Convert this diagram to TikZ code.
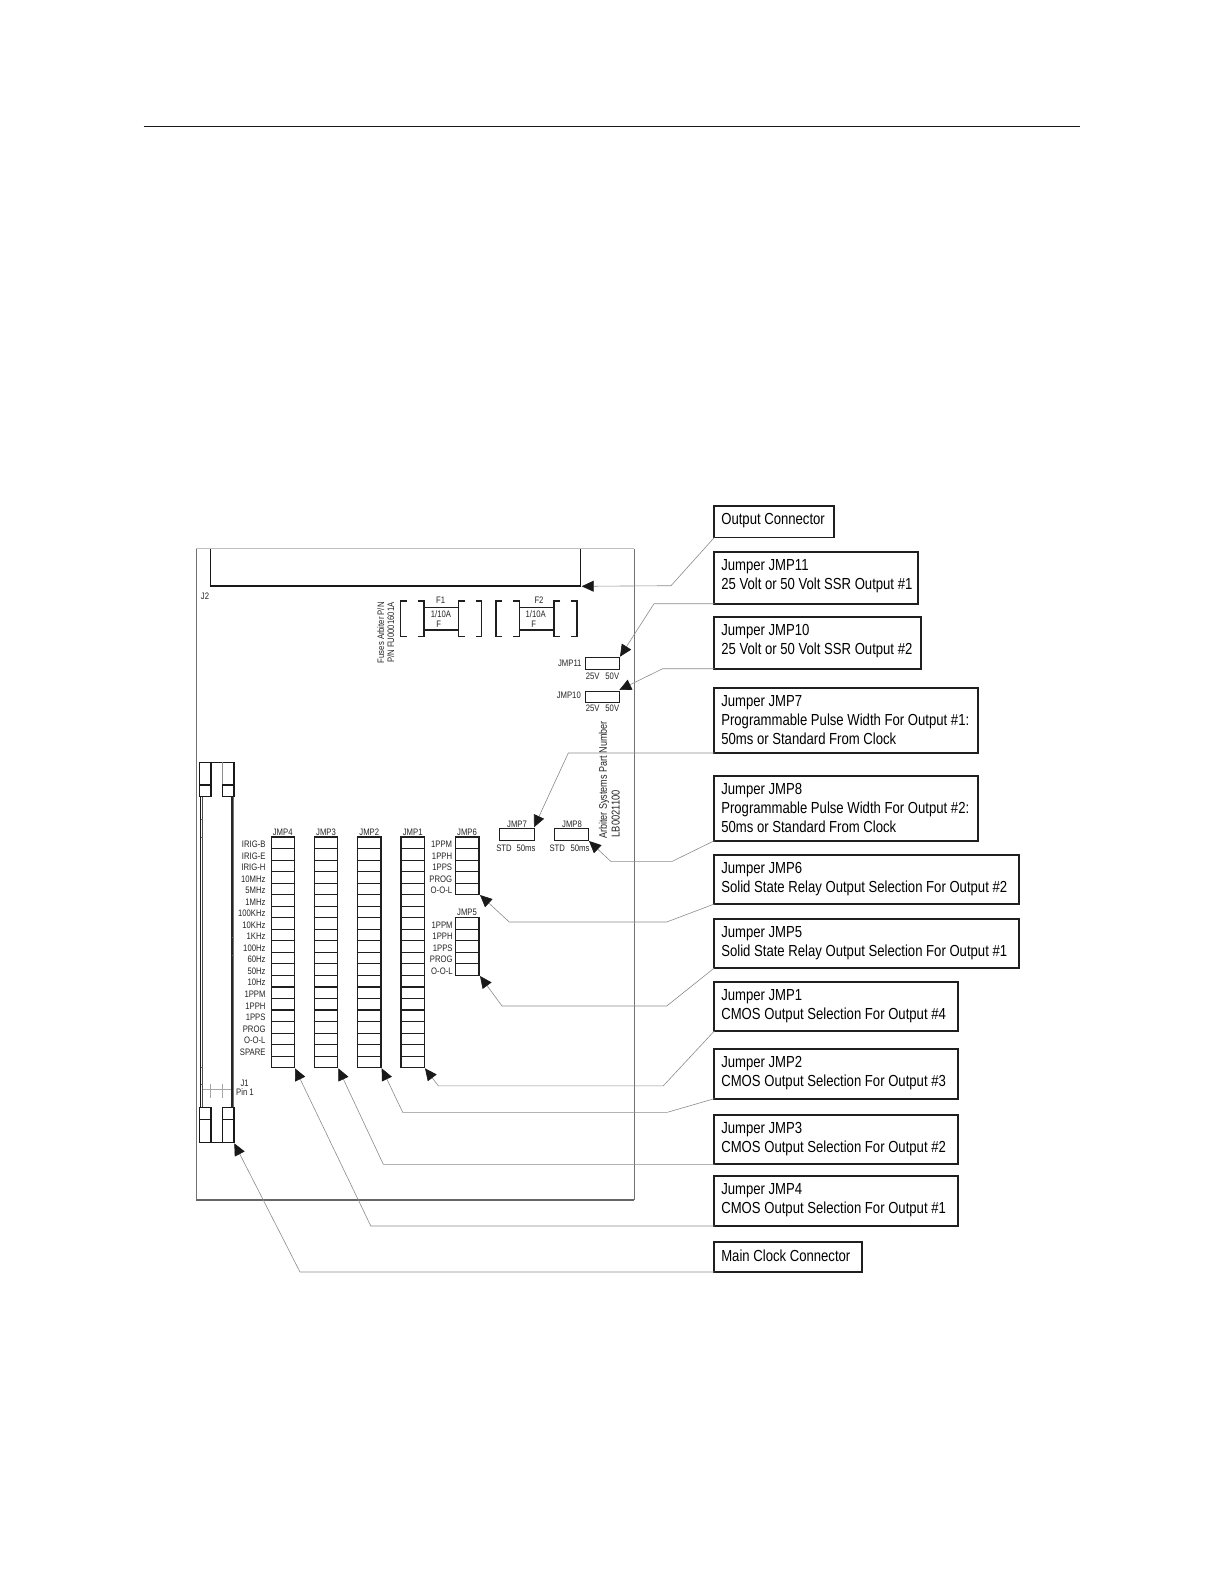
\documentclass[tikz,border=0pt]{standalone}
\usepackage{fontspec}
\setmainfont[FakeStretch=0.82]{Liberation Sans}
\usetikzlibrary{arrows.meta}
\tikzset{
  callout/.style={draw=black!88,line width=1.7pt,inner sep=0pt,outer sep=0pt,anchor=north west,font=\fontsize{16}{19}\selectfont},
  lead/.style={draw=black!45,line width=0.6pt,-{Triangle[length=12pt,width=11pt,fill=black!90,color=black!90]}},
  pinbox/.style={draw=black!88,line width=1.15pt},
  tiny/.style={inner sep=0pt,font=\fontsize{9.4}{10}\selectfont,text=black!85},
  rowlab/.style={tiny,anchor=east},
  board/.style={draw=black!55,line width=0.8pt},
  heavy/.style={draw=black!90,line width=1.3pt},
  fine/.style={draw=black!35,line width=0.5pt}
}
\newcommand{\callbox}[6]{% name,x,y,w,h,text
  \node[callout] (#1) at (#2,#3) {\parbox[c][#5pt][t]{#4pt}{\vspace{7.5pt}\leftskip=7pt\relax #6}};
}
\newcommand{\pinblock}[6]{% name,x,y,w,rows,rowh
  \node[pinbox,inner sep=0pt,outer sep=0pt,anchor=north west,minimum width=#4pt,minimum height=#5*#6pt] (#1) at (#2,#3) {};
  \foreach \r in {1,...,#5}{\draw[pinbox] (#2,#3+\r*#6) -- ++(#4,0);}
}
\begin{document}
\begin{tikzpicture}[x=1pt,y=-1pt]
\useasboundingbox (0,0) rectangle (1224,1584);
\fill[white] (0,0) rectangle (1224,1584);
% top rule
\coordinate (ruleL) at (143.5,126.5);
\coordinate (ruleR) at (1080,126.5);
\draw[black!90,line width=1pt] (ruleL) -- (ruleR);
% board
\draw[board] (196.3,548.7) -- (196.3,1200);
\draw[board] (634.3,548.7) -- (634.3,1200);
\draw[draw=black!25,line width=0.8pt] (196.3,548.7) -- (634.3,548.7);
\draw[draw=black!60,line width=1.2pt] (196.3,1200) -- (634.3,1200);
% J2
\draw[heavy] (210.3,549) -- (210.3,586) -- (580.7,586) -- (580.7,549);
\node[tiny] (j2lab) at (205,596.7) {J2};
% J1 connector
\draw[heavy] (199.3,762.3) rectangle (234,796.7);
\draw[heavy] (211,762.3) -- (211,796.7);
\draw[draw=black!45,line width=0.8pt] (222.3,762.3) -- (222.3,785);
\draw[heavy] (199.3,785) -- (211,785) (222.3,785) -- (234,785);
\draw[heavy] (222.3,785) -- (222.3,796.7);
\draw[white,line width=2pt] (212,796.7) -- (221.5,796.7);
\draw[heavy] (199.3,1142.3) rectangle (234,1107.3);
\draw[heavy] (211,1107.3) -- (211,1142.3) (222.3,1107.3) -- (222.3,1142.3);
\draw[white,line width=2pt] (212,1107.3) -- (221.5,1107.3);
\draw[heavy] (199.3,1119.3) -- (211,1119.3) (222.3,1119.3) -- (234,1119.3);
\draw[heavy] (200.6,796.7) -- (200.6,1107.3);
\draw[draw=black!70,line width=0.7pt] (202.6,796.7) -- (202.6,1107.3);
\draw[draw=black!85,line width=1.4pt] (232,796.7) -- (232,1107.3);
\draw[draw=black!55,line width=0.7pt] (233.8,796.7) -- (233.8,1107.3);
\foreach \yy in {819,837,1067,1084}{\draw[draw=black!60,line width=0.8pt] (200.6,\yy) -- (202.6,\yy);}
\foreach \yy in {937.7,955}{\draw[draw=black!60,line width=0.8pt] (232,\yy) -- (233.8,\yy);}
\draw[fine] (202.6,1089.3) -- (231,1089.3);
\draw[fine] (210.7,1084) -- (210.7,1098) (222.3,1084) -- (222.3,1098);
\node[tiny] (j1lab) at (244.7,1083.3) {J1};
\node[tiny] (pinlab) at (245,1092.5) {Pin 1};
% jumper blocks
\def\rh{11.535}
\pinblock{jmp4}{271.3}{837}{23.4}{20}{\rh}
\pinblock{jmp3}{314.7}{837}{23.2}{20}{\rh}
\pinblock{jmp2}{357.7}{837}{23.3}{20}{\rh}
\pinblock{jmp1}{401}{837}{23.3}{20}{\rh}
\pinblock{jmp6}{455.7}{837}{23.3}{5}{\rh}
\pinblock{jmp5}{455.7}{917.7}{23.3}{5}{\rh}
\node[tiny] (t4) at (282.7,832.2) {JMP4};
\node[tiny] (t3) at (326,832.2) {JMP3};
\node[tiny] (t2) at (369.3,832.2) {JMP2};
\node[tiny] (t1) at (412.7,832.2) {JMP1};
\node[tiny] (t6) at (467,832.2) {JMP6};
\node[tiny] (t5) at (467,912.8) {JMP5};
\foreach \lab [count=\i from 0] in {IRIG-B,IRIG-E,IRIG-H,10MHz,5MHz,1MHz,100KHz,10KHz,1KHz,100Hz,60Hz,50Hz,10Hz,1PPM,1PPH,1PPS,PROG,O-O-L,SPARE}{
  \node[rowlab] (rowa\i) at (265.7,838.5+\rh/2+\i*\rh) {\lab};
}
\foreach \lab [count=\i from 0] in {1PPM,1PPH,1PPS,PROG,O-O-L}{
  \node[rowlab] (rowb\i) at (452.3,838.5+\rh/2+\i*\rh) {\lab};
  \node[rowlab] (rowc\i) at (452.8,919.2+\rh/2+\i*\rh) {\lab};
}
% fuses
\foreach \dx/\nm/\lx/\fx/\tx in {0/F1/441/438.7/440.7,95.3/F2/535.7/533.7/539}{
  \begin{scope}[xshift=\dx pt]
  \draw[pinbox] (406.7,601) -- (400.7,601) -- (400.7,636.7) -- (406.7,636.7);
  \draw[pinbox] (418,601) -- (424,601) -- (424,636.7) -- (418,636.7);
  \draw[pinbox] (465,601) -- (458.7,601) -- (458.7,636.7) -- (465,636.7);
  \draw[pinbox] (475.7,601) -- (481.7,601) -- (481.7,636.7) -- (475.7,636.7);
  \draw[pinbox] (424,607.7) -- (458.7,607.7) (424,630) -- (458.7,630);
  \end{scope}
  \node[tiny] (fuse\nm) at (\tx,600) {\nm};
  \node[tiny] (rate\nm) at (\lx,614.3) {1/10A};
  \node[tiny] (type\nm) at (\fx,624.3) {F};
}
\node[tiny,rotate=90] (fusea) at (380.7,632.7) {Fuses Arbiter P/N};
\node[tiny,rotate=90] (fuseb) at (390.7,632.7) {P/N FU0001601A};
% small jumpers
\node[pinbox,inner sep=0pt,minimum width=34.6pt,minimum height=11.4pt,anchor=north west] (jmp11) at (584.7,657.3) {};
\node[pinbox,inner sep=0pt,minimum width=34.6pt,minimum height=11pt,anchor=north west] (jmp10) at (584.7,690.7) {};
\node[pinbox,inner sep=0pt,minimum width=34.7pt,minimum height=12pt,anchor=north west] (jmp7) at (499,828.3) {};
\node[pinbox,inner sep=0pt,minimum width=34.6pt,minimum height=12pt,anchor=north west] (jmp8) at (553.7,828.3) {};
\node[rowlab] (t11) at (581.7,663) {JMP11};
\node[rowlab] (t10) at (581,695.6) {JMP10};
\node[tiny] (a25) at (592.7,676) {25V};
\node[tiny] (a50) at (612.3,676) {50V};
\node[tiny] (b25) at (592.7,708.7) {25V};
\node[tiny] (b50) at (612.3,708.7) {50V};
\node[tiny] (t7) at (517,824.2) {JMP7};
\node[tiny] (t8) at (572,824.2) {JMP8};
\node[tiny] (c1) at (504,848) {STD};
\node[tiny] (c2) at (526,848) {50ms};
\node[tiny] (d1) at (557.3,848) {STD};
\node[tiny] (d2) at (580,848) {50ms};
\node[tiny,rotate=90,font=\fontsize{11}{12}\selectfont] (pa) at (604,780) {Arbiter Systems Part Number};
\node[tiny,rotate=90,font=\fontsize{11.4}{12}\selectfont] (pb) at (615.8,813.7) {LB0021100};
% callouts
\callbox{cOut}{714.3}{505.7}{120}{31.8}{Output Connector}
\callbox{c11}{714.3}{552.3}{203.7}{51.4}{Jumper JMP11\\25 Volt or 50 Volt SSR Output \#1}
\callbox{c10}{714.3}{617.3}{206.7}{51.4}{Jumper JMP10\\25 Volt or 50 Volt SSR Output \#2}
\callbox{c7}{714.3}{688}{263.4}{65}{Jumper JMP7\\Programmable Pulse Width For Output \#1:\\50ms or Standard From Clock}
\callbox{c8}{714.3}{775.7}{263.4}{65}{Jumper JMP8\\Programmable Pulse Width For Output \#2:\\50ms or Standard From Clock}
\callbox{c6}{714.3}{854.7}{304.7}{49.3}{Jumper JMP6\\Solid State Relay Output Selection For Output \#2}
\callbox{c5}{714.3}{918.7}{304.7}{49.3}{Jumper JMP5\\Solid State Relay Output Selection For Output \#1}
\callbox{c1b}{714.3}{982}{243.4}{49}{Jumper JMP1\\CMOS Output Selection For Output \#4}
\callbox{c2b}{714.3}{1049}{243.4}{49.7}{Jumper JMP2\\CMOS Output Selection For Output \#3}
\callbox{c3b}{714.3}{1114.7}{243.4}{49.6}{Jumper JMP3\\CMOS Output Selection For Output \#2}
\callbox{c4b}{714.3}{1176.3}{243.4}{49.7}{Jumper JMP4\\CMOS Output Selection For Output \#1}
\callbox{cMain}{714.3}{1242}{147.7}{30}{Main Clock Connector}
% tips
\coordinate (tOut) at (581.7,586.3);
\coordinate (t11t) at (620,656.7);
\coordinate (t10t) at (619.3,690);
\coordinate (t7t) at (534,827.3);
\coordinate (t8t) at (589,841);
\coordinate (t6t) at (480,895);
\coordinate (t5t) at (480,976);
\coordinate (t1t) at (425,1068.3);
\coordinate (t2t) at (381.7,1068.3);
\coordinate (t3t) at (338.3,1068.3);
\coordinate (t4t) at (295,1068.3);
\coordinate (tMt) at (234.3,1143.3);
% connectors
\draw[lead] (cOut.south west) -- (671,585.7) -- (tOut);
\draw[lead] (c11.south west) -- (654,603.7) -- (t11t);
\draw[lead] (c10.south west) -- (662.7,668.7) -- (t10t);
\draw[lead] (c7.south west) -- (568.3,753) -- (t7t);
\draw[lead] (c8.south west) -- (672.3,861.3) -- (610.7,861.3) -- (t8t);
\draw[lead] (c6.south west) -- (666.7,922) -- (509.3,922) -- (t6t);
\draw[lead] (c5.south west) -- (666.7,1006) -- (502,1006) -- (t5t);
\draw[lead] (c1b.south west) -- (663.3,1085.8) -- (438.3,1085.8) -- (t1t);
\draw[lead] (c2b.south west) -- (667.3,1112.3) -- (402.7,1112.3) -- (t2t);
\draw[lead] (c3b.south west) -- (383.3,1164.3) -- (t3t);
\draw[lead] (c4b.south west) -- (370.8,1226) -- (t4t);
\draw[lead] (cMain.south west) -- (300,1272) -- (tMt);
\end{tikzpicture}
\end{document}
